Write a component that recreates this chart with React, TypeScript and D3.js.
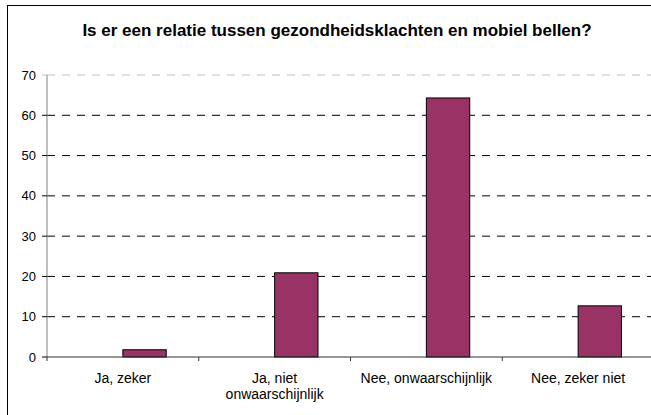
import React from 'react';
import * as d3 from 'd3';

const title = 'Is er een relatie tussen gezondheidsklachten en mobiel bellen?';
const categories = ['Ja, zeker', 'Ja, niet\nonwaarschijnlijk', 'Nee, onwaarschijnlijk', 'Nee, zeker niet'];
const values = [1.8, 20.9, 64.3, 12.7];
// Excel layout: an empty first series sits before the plotted one
const seriesKeys = ['leeg', 'antwoorden'];
const yTicks = [0, 10, 20, 30, 40, 50, 60, 70];

const W = 651, H = 415;
const left = 47, top = 75, bottom = 357, plotRight = 654;

export default function App() {
  const x = d3.scaleBand().domain(categories).range([left, plotRight]).padding(0);
  const x1 = d3.scaleBand().domain(seriesKeys).range([0, x.bandwidth()]).paddingInner(0).paddingOuter(0.75);
  const y = d3.scaleLinear().domain([0, 70]).range([bottom, top]);
  const font = 'Arial, "Liberation Sans", sans-serif';

  return (
    <svg width={W} height={H} style={{ position: 'absolute', left: 0, top: 0, background: '#fff' }} fontFamily={font}>
      <rect x={7.5} y={5.5} width={700} height={500} fill="#fff" stroke="#000" strokeWidth={1} />
      <text x={337} y={36} textAnchor="middle" fontSize={17} fontWeight="bold" fill="#000">{title}</text>

      {/* gridlines, the top one is drawn lighter */}
      {yTicks.filter(t => t > 0).map(t => (
        <line key={t} x1={left} x2={W} y1={y(t)} y2={y(t)}
          stroke={t === 70 ? '#c0c0c0' : '#000'} strokeDasharray="8,7" strokeWidth={1} />
      ))}

      {/* bars */}
      {values.map((v, i) => (
        <rect key={i}
          x={x(categories[i])! + x1('antwoorden')!}
          y={y(v)}
          width={x1.bandwidth()}
          height={y(0) - y(v)}
          fill="#993366" stroke="#000" strokeWidth={1} />
      ))}

      {/* y axis */}
      <line x1={left} x2={left} y1={y(70)} y2={y(0)} stroke="#808080" />
      {yTicks.map(t => (
        <g key={t}>
          <line x1={left - 5} x2={left} y1={y(t)} y2={y(t)} stroke={t === 70 ? '#c0c0c0' : '#000'} />
          <text x={36} y={y(t)} dy="0.35em" textAnchor="end" fontSize={13} fill="#000">{t}</text>
        </g>
      ))}

      {/* x axis */}
      <line x1={left} x2={W} y1={y(0)} y2={y(0)} stroke="#333" />
      {categories.map((c, i) => (
        <g key={c}>
          <line x1={x(c)!} x2={x(c)!} y1={y(0)} y2={y(0) + 4} stroke="#333" />
          <text x={x(c)! + x.bandwidth() / 2} y={383} textAnchor="middle" fontSize={14} fill="#000">
            {c.split('\n').map((ln, j) => (
              <tspan key={j} x={x(c)! + x.bandwidth() / 2} dy={j === 0 ? 0 : 16}>{ln}</tspan>
            ))}
          </text>
        </g>
      ))}
    </svg>
  );
}
